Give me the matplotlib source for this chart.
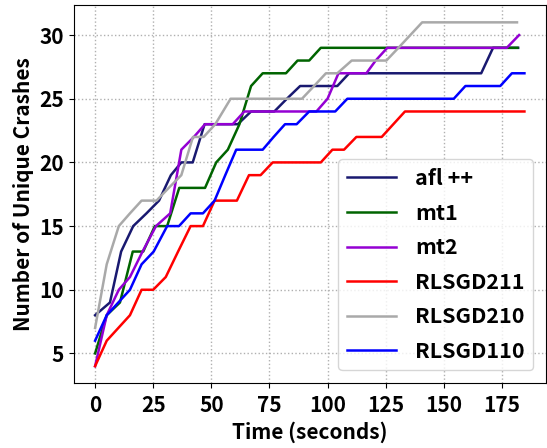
import matplotlib
matplotlib.use("Agg")
import matplotlib.pyplot as plt

plt.rcParams["font.family"] = ["Noto Sans CJK SC", "DejaVu Sans"]
plt.rcParams["font.weight"] = "bold"

# afl++
afl_t = [0, 6.4, 11.2, 16.4, 22.1, 27.5, 32.6, 37.1, 42, 47.1, 61.4, 67.1, 77.1, 82.5, 88.2, 104.2, 109.3, 166.1, 171.2, 182]
afl_v = [8, 9, 13, 15, 16, 17, 19, 20, 20, 23, 23, 24, 24, 25, 26, 26, 27, 27, 29, 29]

# mt1
mt1_t = [0, 5, 10.7, 16.2, 20.7, 25.7, 31, 36.2, 47.3, 52.1, 57.1, 62.1, 67.1, 72.1, 82.1, 87.1, 92.1, 97.1, 181.7]
mt1_v = [5, 8, 9, 13, 13, 15, 15, 18, 18, 20, 21, 23, 26, 27, 27, 28, 28, 29, 29]

# mt2
mt2_t = [0, 5, 10.2, 15, 20.4, 26.2, 32.3, 37.1, 42.5, 47.3, 59.2, 64.2, 95.2, 100, 104.7, 116.7, 120.7, 125.7, 177.1, 182.4]
mt2_v = [4, 8, 10, 11, 13, 15, 16, 21, 22, 23, 23, 24, 24, 25, 27, 27, 28, 29, 29, 30]

# RLSGD211
r211_t = [0, 5, 10, 15, 20, 25, 30.4, 35.7, 41.1, 46.4, 51.4, 61, 66.2, 71.2, 76.4, 97.1, 102.1, 107.1, 112.4, 123.3, 128.3, 133.3, 184.7]
r211_v = [4, 6, 7, 8, 10, 10, 11, 13, 15, 15, 17, 17, 19, 19, 20, 20, 21, 21, 22, 22, 23, 24, 24]

# RLSGD210
r210_t = [0, 5, 10.2, 15, 20, 26.4, 31.7, 37.1, 42.1, 46.7, 51.7, 58.3, 89, 94.2, 99.3, 104.2, 110.4, 125.3, 130.5, 135.6, 140.7, 181.5]
r210_v = [7, 12, 15, 16, 17, 17, 18, 19, 22, 22, 23, 25, 25, 26, 27, 27, 28, 28, 29, 30, 31, 31]

# RLSGD110
r110_t = [0, 5, 10, 15, 20, 25.2, 31, 36.1, 41.1, 46.4, 51.4, 56, 60.7, 72.1, 76.8, 81.7, 86.7, 92.1, 103.3, 108.5, 154.3, 159.3, 174.3, 179.3, 184.7]
r110_v = [6, 8, 9, 10, 12, 13, 15, 15, 16, 16, 17, 19, 21, 21, 22, 23, 23, 24, 24, 25, 25, 26, 26, 27, 27]

series = [
    ("afl ++", afl_t, afl_v, "midnightblue"),
    ("mt1", mt1_t, mt1_v, "darkgreen"),
    ("mt2", mt2_t, mt2_v, "darkviolet"),
    ("RLSGD211", r211_t, r211_v, "red"),
    ("RLSGD210", r210_t, r210_v, "darkgray"),
    ("RLSGD110", r110_t, r110_v, "blue"),
]

x_ticks = [0, 25, 50, 75, 100, 125, 150, 175]
y_ticks = [5, 10, 15, 20, 25, 30]

fig, ax = plt.subplots(figsize=(5.47, 4.48), dpi=100)
fig.subplots_adjust(left=0.1346, right=0.998, bottom=0.1443, top=0.9885)

for name, t, v, c in series:
    ax.plot(t, v, color=c, linewidth=1.8, label=name)

ax.set_xticks(x_ticks)
ax.set_yticks(y_ticks)
ax.grid(True, linestyle=":", color="#b0b0b0", linewidth=1.0)
ax.tick_params(labelsize=15)
ax.tick_params(axis="x", pad=5)
for lab in ax.get_xticklabels() + ax.get_yticklabels():
    lab.set_fontweight("bold")
ax.set_xlabel("Time (seconds)", fontsize=15, fontweight="bold", labelpad=4)
ax.set_ylabel("Number of Unique Crashes", fontsize=15, fontweight="bold", labelpad=4)

leg = ax.legend(loc="lower right", handlelength=2.3, handletextpad=0.85,
                labelspacing=0.63, borderaxespad=0.6,
                prop={"weight": "bold", "size": 15.5})

fig.savefig("out.png", dpi=100)
